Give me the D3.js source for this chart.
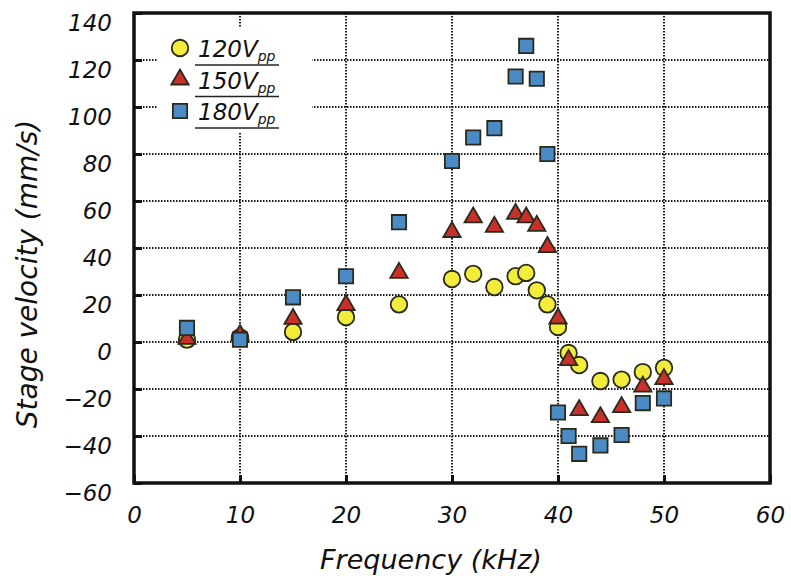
<!DOCTYPE html>
<html>
<head>
<meta charset="utf-8">
<script src="https://cdn.jsdelivr.net/npm/d3@7"></script>
<style>
  body { margin: 0; background: #fff; }
  svg { display: block; }
  text { font-family: "DejaVu Sans", sans-serif; font-style: italic; fill: #111; }
</style>
</head>
<body>
<div id="chart"></div>
<script>
const freqs = [5, 10, 15, 20, 25, 30, 32, 34, 36, 37, 38, 39, 40, 41, 42, 44, 46, 48, 50];
const v120 = [1, 2, 4.3, 10.6, 16, 26.8, 29, 23.4, 28, 29.4, 22, 16, 6.4, -4.7, -9.8, -16.6, -16, -12.8, -11];
const v150 = [1.3, 3, 9.8, 15.7, 29.4, 46.8, 53, 49, 54.5, 53, 49.4, 40.4, 10, -7.7, -29, -32, -27.7, -19, -15.8];
const v180 = [6, 1, 19, 28, 51, 77, 87, 91, 113, 126, 112, 80, -30, -40, -47.6, -44, -39.6, -26, -24];
const xTicks = [0, 10, 20, 30, 40, 50, 60];
const yTicks = [-60, -40, -20, 0, 20, 40, 60, 80, 100, 120, 140];

const series = [
  { name: '120V', values: v120, shape: d3.symbolCircle, fill: '#f2ec3a', size: 215 },
  { name: '150V', values: v150, shape: d3.symbolTriangle, fill: '#c9302c', size: 130 },
  { name: '180V', values: v180, shape: d3.symbolSquare, fill: '#4a8bc6', size: 205 }
];

const W = 791, H = 576;
const svg = d3.select('#chart').append('svg').attr('width', W).attr('height', H);

const x = d3.scaleLinear().domain([0, 60]).range([134, 770]);
const y = d3.scaleLinear().domain([-60, 140]).range([483, 13]);

// grid
const grid = svg.append('g').attr('stroke', '#1a1a1a').attr('stroke-width', 2).attr('stroke-dasharray', '1.5,1.5');
grid.selectAll('.gx').data(xTicks.slice(1, -1)).join('line')
  .attr('x1', d => x(d)).attr('x2', d => x(d)).attr('y1', y(140)).attr('y2', y(-60));
grid.selectAll('.gy').data(yTicks.slice(1, -1)).join('line')
  .attr('x1', x(0)).attr('x2', x(60)).attr('y1', d => y(d)).attr('y2', d => y(d));

// legend background hides grid
svg.append('rect').attr('x', 157).attr('y', 28).attr('width', 155).attr('height', 105).attr('fill', '#fff');

// axes
const xAxis = svg.append('g').attr('transform', `translate(0,${y(-60)})`)
  .call(d3.axisBottom(x).tickValues(xTicks).tickSize(-8).tickPadding(24).tickFormat(d3.format('d')));
const yAxis = svg.append('g').attr('transform', `translate(${x(0)},0)`)
  .call(d3.axisLeft(y).tickValues(yTicks).tickSize(-8).tickPadding(22).tickFormat(d => d < 0 ? '\u2212' + Math.abs(d) : d));
[xAxis, yAxis].forEach(a => {
  a.select('.domain').remove();
  a.selectAll('.tick line').attr('stroke', '#111').attr('stroke-width', 3);
  a.selectAll('.tick text').attr('font-size', 23).attr('fill', '#111')
    .style('font-family', '"DejaVu Sans", sans-serif').style('font-style', 'italic');
});
yAxis.selectAll('.tick text').attr('dy', '0.75em');

// frame
svg.append('rect').attr('x', x(0)).attr('y', y(140)).attr('width', x(60) - x(0)).attr('height', y(-60) - y(140))
  .attr('fill', 'none').attr('stroke', '#111').attr('stroke-width', 3.5);

// points
series.forEach(s => {
  svg.append('g').selectAll('path').data(freqs.map((f, i) => [f, s.values[i]])).join('path')
    .attr('transform', d => `translate(${x(d[0])},${y(d[1])})`)
    .attr('d', d3.symbol().type(s.shape).size(s.size))
    .attr('fill', s.fill).attr('stroke', '#2a2a1a').attr('stroke-width', 1.8);
});

// legend
const lg = svg.append('g');
series.forEach((s, i) => {
  const cy = 48 + i * 31.5;
  lg.append('path').attr('transform', `translate(180,${cy})`)
    .attr('d', d3.symbol().type(s.shape).size(s.size))
    .attr('fill', s.fill).attr('stroke', '#2a2a1a').attr('stroke-width', 1.8);
  const t = lg.append('text').attr('x', 198).attr('y', cy + 9).attr('font-size', 23);
  t.append('tspan').text(s.name);
  t.append('tspan').attr('font-size', 14).attr('dy', 4).text('pp');
  lg.append('line').attr('x1', 195).attr('x2', 279).attr('y1', cy + 17).attr('y2', cy + 17)
    .attr('stroke', '#222').attr('stroke-width', 1.5);
});

// axis titles
svg.append('text').attr('x', 431).attr('y', 569).attr('text-anchor', 'middle').attr('font-size', 27)
  .text('Frequency (kHz)');
svg.append('text').attr('transform', 'translate(37,274) rotate(-90)').attr('text-anchor', 'middle').attr('font-size', 28)
  .text('Stage velocity (mm/s)');
</script>
</body>
</html>
